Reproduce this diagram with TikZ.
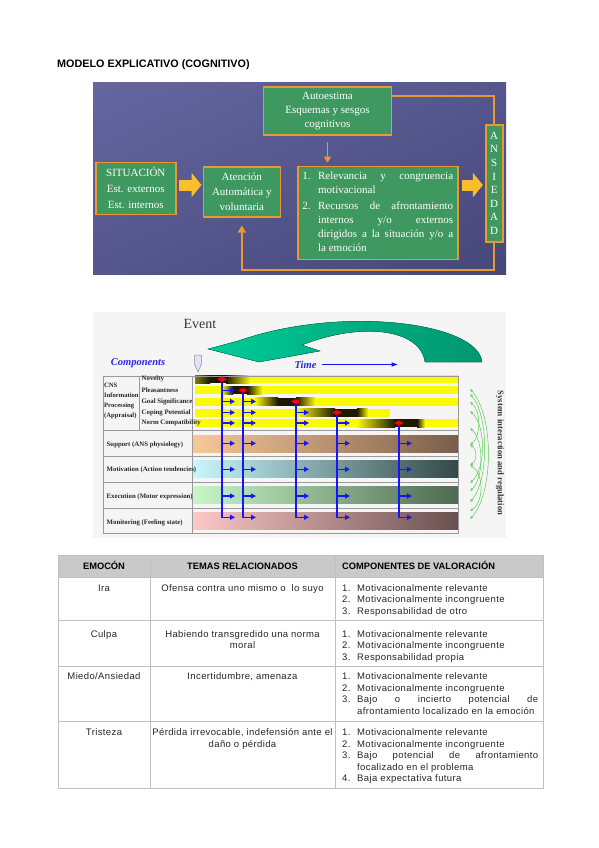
\documentclass[tikz,border=0pt]{standalone}
\usepackage{fontspec}
\setmainfont{Liberation Serif}
\newfontfamily\arialfont{Liberation Sans}
\newfontfamily\tabfontfam[LetterSpace=4]{Liberation Sans}
\newcommand{\tabfont}{\tabfontfam\fontsize{9.5}{11.5}\selectfont}
\usepackage{tikz}
\usetikzlibrary{positioning,arrows.meta,calc,shadings}

\definecolor{panelblue}{RGB}{84,86,140}
\definecolor{panellight}{RGB}{100,102,160}
\definecolor{paneldark}{RGB}{70,72,122}
\definecolor{boxgreen}{RGB}{62,152,96}
\definecolor{boxorange}{RGB}{236,152,48}
\definecolor{fatyellow}{RGB}{248,190,44}
\definecolor{evlight}{RGB}{0,204,152}
\definecolor{evdark}{RGB}{0,150,110}
\definecolor{compblue}{RGB}{40,40,230}
\definecolor{timeblue}{RGB}{20,20,255}
\definecolor{arcgreen}{RGB}{90,205,90}
\definecolor{appyellow}{RGB}{250,250,0}
\definecolor{blobdark}{RGB}{30,24,0}

\begin{document}
\begin{tikzpicture}[x=1pt, y=-1pt,
    font=\fontsize{11}{14}\selectfont,
    gbox/.style={draw=boxorange, line width=1.6pt, fill=boxgreen, text=white,
                 align=center, inner sep=0pt},
    fat/.style={line width=11pt, fatyellow, -{Triangle[length=10pt, width=24pt]}},
    link/.style={draw=boxorange, line width=1.8pt},
    rowlbl/.style={anchor=west, inner sep=0pt, font=\bfseries\fontsize{6.8}{7}\selectfont,
                   text=black!85},
    barrow/.style={draw=timeblue, line width=1.4pt, -{Triangle[length=5pt, width=5pt]}},
    sysarc/.style={draw=arcgreen, line width=0.5pt,
                   {Latex[length=3pt, width=2.5pt]}-{Latex[length=3pt, width=2.5pt]}},
    grid/.style={draw=black!40, line width=0.5pt},
    tgrid/.style={draw=black!25, line width=0.6pt},
    cell/.style={anchor=base, inner sep=0pt, font=\tabfont, text=black!85},
    hcell/.style={anchor=base, inner sep=0pt, font=\arialfont\bfseries\fontsize{9.3}{11}\selectfont},
  ]
  \useasboundingbox (0,0) rectangle (599,848);
  \fill[white] (0,0) rectangle (599,848);

  % ---------- cognitive model ----------
  \node[anchor=base west, inner sep=0pt, font=\arialfont\bfseries\fontsize{10.8}{12}\selectfont]
    (title) at (57,68) {MODELO EXPLICATIVO (COGNITIVO)};

  \shade[upper left=panellight, upper right=panelblue, lower left=panelblue,
         lower right=paneldark] (93,83) rectangle (506,274);

  \node[gbox, minimum width=128pt, minimum height=48pt] (auto) at (327.5,111)
    {Autoestima\\Esquemas y sesgos\\cognitivos};
  \node[gbox, minimum width=80pt, minimum height=52pt, font=\fontsize{11}{16}\selectfont]
    (sit) at (135.8,188.3) {SITUACIÓN\\Est. externos\\Est. internos};
  \node[gbox, minimum width=77pt, minimum height=50pt, font=\fontsize{11}{15}\selectfont]
    (aten) at (241.8,191.7) {Atención\\Automática y\\voluntaria};
  \node[gbox, minimum width=160pt, minimum height=93pt] (rel) at (377.8,213)
    {\begin{tabular}{@{}p{15.7pt}@{}l@{}}
      1. & \makebox[135pt][s]{Relevancia y congruencia}\\
         & motivacional\\[2pt]
      2. & \makebox[135pt][s]{Recursos de afrontamiento}\\
         & \makebox[135pt][s]{internos y/o externos}\\
         & \makebox[135pt][s]{dirigidos a la situación y/o a}\\
         & la emoción
     \end{tabular}};
  \node[gbox, minimum width=17pt, minimum height=117pt, font=\fontsize{11}{13.6}\selectfont]
    (ans) at (494.2,183.3) {A\\N\\S\\I\\E\\D\\A\\D};

  \draw[fat, shorten <=2pt, shorten >=1pt] (sit.east |- 0,185) -- (aten.west |- 0,185);
  \draw[fat, shorten <=3pt, shorten >=2pt] (rel.east |- 0,185) -- (ans.west |- 0,185);
  \draw[link, -{Triangle[length=6pt, width=7pt]}, shorten <=6pt, shorten >=3pt]
    (auto.south) -- (auto.south |- rel.north);
  \draw[link] ([yshift=-10pt]auto.north east) -| (ans.north);
  % feedback to attention
  \draw[link, -{Triangle[length=7pt, width=8pt]}, shorten >=8pt]
    (ans.south) -- ++(0,27) -| (aten.south);

  % ---------- component process model ----------
  \fill[black!4] (93,312) rectangle (506,538);

  \node[font=\fontsize{14}{16}\selectfont, text=black!80] (event) at (200,324) {Event};
  \filldraw[draw=evdark!80!black, line width=0.4pt, left color=evlight, right color=evdark]
    (482,362) .. controls (478,322) and (340,305) .. (238,341) -- (208,349) -- (259,362)
    -- (320,351) -- (302,345) .. controls (360,322) and (420,328) .. (425,362) -- cycle;

  \node[font=\bfseries\itshape\fontsize{10.5}{12}\selectfont, text=compblue] (comp)
    at (138,363.5) {Components};
  \filldraw[fill=blue!12, draw=black!45, line width=0.5pt]
    (194.5,355) -- (201.5,355) -- (201.5,364) -- (198,372) -- (194.5,364) -- cycle;
  \node[font=\bfseries\itshape\fontsize{10.5}{12}\selectfont, text=compblue, anchor=west,
        inner sep=0pt] (time) at (294.5,364.5) {Time};
  \draw[timeblue, line width=1.2pt, -{Triangle[length=6pt, width=4pt]}]
    ([xshift=5pt]time.east) -- ++(76,0);

  % appraisal rows
  \foreach \y/\xe in {379.3/458, 390.3/458, 401.5/458, 412.5/390, 423/458}
    \fill[appyellow] (195,\y-4) rectangle (\xe,\y+4);
  \foreach \y/\a/\b/\c/\d in {379.3/195/210/226/250, 390.3/222/233/247/262,
                              401.5/255/278/296/315, 412.5/297/335/357/368,
                              423/357/395/417/425} {
    \shade[left color=appyellow, right color=blobdark] (\a,\y-4) rectangle (\b,\y+4);
    \fill[blobdark] (\b,\y-4) rectangle (\c,\y+4);
    \shade[left color=blobdark, right color=appyellow] (\c,\y-4) rectangle (\d,\y+4);
  }
  \shade[left color=appyellow!45!blobdark, right color=blobdark] (195,375.3) rectangle (210,383.3);

  % lower rows
  \shade[left color={rgb,255:red,248;green,200;blue,152}, right color={rgb,255:red,122;green,94;blue,74}]
    (192,435) rectangle (458,452);
  \shade[left color={rgb,255:red,200;green,248;blue,252}, right color={rgb,255:red,52;green,72;blue,72}]
    (192,460) rectangle (458,477);
  \shade[left color={rgb,255:red,200;green,248;blue,200}, right color={rgb,255:red,78;green,106;blue,80}]
    (192,486) rectangle (458,503);
  \shade[left color={rgb,255:red,252;green,200;blue,200}, right color={rgb,255:red,106;green,80;blue,80}]
    (192,512) rectangle (458,529);

  % grid
  \draw[grid] (103,376) rectangle (458,533);
  \draw[grid] (139.3,376) -- (139.3,430);
  \draw[grid] (192,376) -- (192,533);
  \foreach \y in {430,456,482,508}
    \draw[grid] (103,\y) -- (458,\y);

  % row labels
  \node[rowlbl, align=left, font=\bfseries\fontsize{6.6}{10}\selectfont] (cns) at (104,401.5)
    {CNS\\Information\\Processing\\(Appraisal)};
  \node[rowlbl] (nov) at (141.5,379.3) {Novelty};
  \node[rowlbl] (ple) at (141.5,390.3) {Pleasantness};
  \node[rowlbl] (goal) at (141.5,401.5) {Goal Significance};
  \node[rowlbl] (cop) at (141.5,412.5) {Coping Potential};
  \node[rowlbl] (norm) at (141.5,423) {Norm Compatibility};
  \node[rowlbl] (sup) at (106.5,444.5) {Support (ANS physiology)};
  \node[rowlbl] (mot) at (106.5,470) {Motivation (Action tendencies)};
  \node[rowlbl] (exe) at (106.5,496.5) {Execution (Motor expression)};
  \node[rowlbl] (mon) at (106.5,522.5) {Monitoring (Feeling state)};

  % checks and their outputs
  \foreach \x/\y/\k in {222/379.3/1, 243/390.3/2, 296/401.5/3, 337/412.5/4, 399/423/5} {
    \draw[timeblue, line width=1.4pt] (\x,\y) -- (\x,518);
    \foreach \yy [count=\j] in {379.3,390.3,401.5,412.5,423} {
      \ifnum\j>\k
        \draw[barrow] (\x,\yy) -- ++(13,0);
      \fi
    }
    \foreach \yy in {443.3,469.3,496,517.3}
      \draw[barrow] (\x-0.7,\yy) -- ++(13.7,0);
    \filldraw[fill=red, draw=red!60!black, line width=0.3pt]
      (\x-5,\y) -- (\x,\y-2.6) -- (\x+5,\y) -- (\x,\y+2.6) -- cycle;
  }

  % system interaction arcs
  \foreach \ya/\yb/\bx in {389/519/494, 394/502/489, 402/445/481, 411/483/486,
                           428/491/484, 465/511/484, 445/465/477}
    \draw[sysarc] (470,\ya) .. controls (\bx,\ya+0.2*\yb-0.2*\ya)
      and (\bx,\yb-0.2*\yb+0.2*\ya) .. (470,\yb);
  \node[rotate=-90, font=\bfseries\fontsize{8.6}{10}\selectfont, text=black!80] (sysreg)
    at (500,453) {System interaction and regulation};

  % ---------- appraisal table ----------
  \fill[black!21] (58,555) rectangle (543,577);
  \foreach \y in {577,620,666,721}
    \draw[tgrid] (58,\y) -- (543,\y);
  \draw[tgrid] (58,555) rectangle (543,788);
  \draw[tgrid] (150,555) -- (150,788);
  \draw[tgrid] (335,555) -- (335,788);

  \node[hcell] (h1) at (104,569.5) {EMOCÓN};
  \node[hcell] (h2) at (242.5,569.5) {TEMAS RELACIONADOS};
  \node[hcell, anchor=base west] (h3) at (342,569.5) {COMPONENTES DE VALORACIÓN};

  \node[cell] (e1) at (104,591) {Ira};
  \node[cell] (e2) at (104,637) {Culpa};
  \node[cell] (e3) at (104,679.5) {Miedo/Ansiedad};
  \node[cell] (e4) at (104,735.5) {Tristeza};

  \node[cell] (t1) at (242.5,591) {Ofensa contra uno mismo o\ \ lo suyo};
  \node[cell] (t2) at (242.5,637)
    {\begin{tabular}[t]{@{}c@{}}Habiendo transgredido una norma\\ moral\end{tabular}};
  \node[cell] (t3) at (242.5,679.5) {Incertidumbre, amenaza};
  \node[cell] (t4) at (242.5,735.5)
    {\begin{tabular}[t]{@{}c@{}}Pérdida irrevocable, indefensión ante el\\ daño o pérdida\end{tabular}};

  \node[cell, anchor=base west] (c1) at (342,591)
    {\begin{tabular}[t]{@{}p{15pt}@{}l@{}}
      1. & Motivacionalmente relevante\\
      2. & Motivacionalmente incongruente\\
      3. & Responsabilidad de otro
     \end{tabular}};
  \node[cell, anchor=base west] (c2) at (342,637)
    {\begin{tabular}[t]{@{}p{15pt}@{}l@{}}
      1. & Motivacionalmente relevante\\
      2. & Motivacionalmente incongruente\\
      3. & Responsabilidad propia
     \end{tabular}};
  \node[cell, anchor=base west] (c3) at (342,679.5)
    {\begin{tabular}[t]{@{}p{15pt}@{}l@{}}
      1. & Motivacionalmente relevante\\
      2. & Motivacionalmente incongruente\\
      3. & \makebox[181pt][s]{Bajo o incierto potencial de}\\
         & afrontamiento localizado en la emoción
     \end{tabular}};
  \node[cell, anchor=base west] (c4) at (342,735.5)
    {\begin{tabular}[t]{@{}p{15pt}@{}l@{}}
      1. & Motivacionalmente relevante\\
      2. & Motivacionalmente incongruente\\
      3. & \makebox[181pt][s]{Bajo potencial de afrontamiento}\\
         & focalizado en el problema\\
      4. & Baja expectativa futura
     \end{tabular}};
\end{tikzpicture}
\end{document}
